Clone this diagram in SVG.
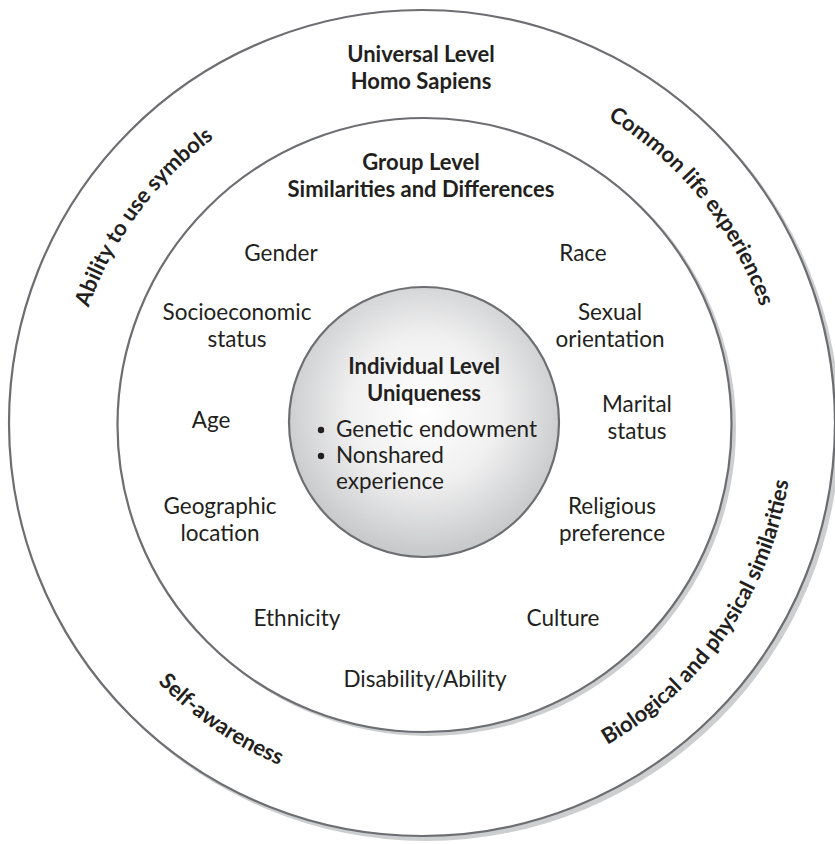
<svg xmlns="http://www.w3.org/2000/svg" xmlns:xlink="http://www.w3.org/1999/xlink" width="835" height="844" viewBox="0 0 835 844">
<defs>
<style>
text{font-family:Lato,"Open Sans","Noto Sans",sans-serif;fill:#231f20;}
.b{font-weight:bold;font-size:22px;text-anchor:middle;}
.r{font-size:22.5px;text-anchor:middle;}
.l{font-size:22.5px;}
.arc{font-weight:bold;font-size:22px;}
.ring{fill:#ffffff;stroke:#6d6e71;stroke-width:2.2;}
.shadow{fill:#cdcecf;}
</style>
<radialGradient id="ball" cx="50%" cy="45%" r="55%">
<stop offset="0" stop-color="#ffffff"/>
<stop offset="0.5" stop-color="#f0f0f1"/>
<stop offset="1" stop-color="#c6c7c8"/>
</radialGradient>
<path id="pAbility" d="M 98.3 565.1 A 354 354 0 0 1 463.1 72.3"/>
<path id="pCommon" d="M 367.2 71.4 A 357 357 0 0 1 756.3 551.9"/>
<path id="pBio" d="M 394 792.9 A 370 370 0 0 0 757 264.7"/>
<path id="pSelf" d="M 54 396.3 A 370 370 0 0 0 583.5 757.4"/>
</defs>
<rect width="835" height="844" fill="#ffffff"/>
<g id="universal-level">
<circle class="shadow" cx="426" cy="427" r="414"/>
<circle class="ring" cx="422" cy="423" r="413"/>
<text class="b" x="421" y="62">Universal Level</text>
<text class="b" x="421" y="89">Homo Sapiens</text>
<text class="arc"><textPath xlink:href="#pAbility" startOffset="50%" text-anchor="middle">Ability to use symbols</textPath></text>
<text class="arc"><textPath xlink:href="#pCommon" startOffset="50%" text-anchor="middle">Common life experiences</textPath></text>
<text class="arc"><textPath xlink:href="#pBio" startOffset="50%" text-anchor="middle">Biological and physical similarities</textPath></text>
<text class="arc"><textPath xlink:href="#pSelf" startOffset="50%" text-anchor="middle">Self-awareness</textPath></text>
</g>
<g id="group-level">
<circle class="shadow" cx="428" cy="428" r="308"/>
<circle class="ring" cx="424.5" cy="425" r="307"/>
<text class="b" x="421" y="170">Group Level</text>
<text class="b" x="421" y="197">Similarities and Differences</text>
<text class="r" x="281" y="261">Gender</text>
<text class="r" x="583" y="261">Race</text>
<text class="r" x="237" y="320">Socioeconomic</text>
<text class="r" x="237" y="347">status</text>
<text class="r" x="610" y="320">Sexual</text>
<text class="r" x="610" y="347">orientation</text>
<text class="r" x="211" y="428">Age</text>
<text class="r" x="637" y="412">Marital</text>
<text class="r" x="637" y="439">status</text>
<text class="r" x="220" y="514">Geographic</text>
<text class="r" x="220" y="541">location</text>
<text class="r" x="612" y="514">Religious</text>
<text class="r" x="612" y="541">preference</text>
<text class="r" x="297" y="626">Ethnicity</text>
<text class="r" x="563" y="626">Culture</text>
<text class="r" x="425" y="687">Disability/Ability</text>
</g>
<g id="individual-level">
<circle cx="424" cy="422" r="135" fill="url(#ball)" stroke="#6d6e71" stroke-width="2.2"/>
<text class="b" x="424" y="374">Individual Level</text>
<text class="b" x="424" y="401">Uniqueness</text>
<circle cx="321" cy="430" r="3.2" fill="#231f20"/>
<circle cx="321" cy="456" r="3.2" fill="#231f20"/>
<text class="l" x="336" y="437">Genetic endowment</text>
<text class="l" x="336" y="463">Nonshared</text>
<text class="l" x="336" y="489">experience</text>
</g>
<g id="connectors"/>
</svg>
